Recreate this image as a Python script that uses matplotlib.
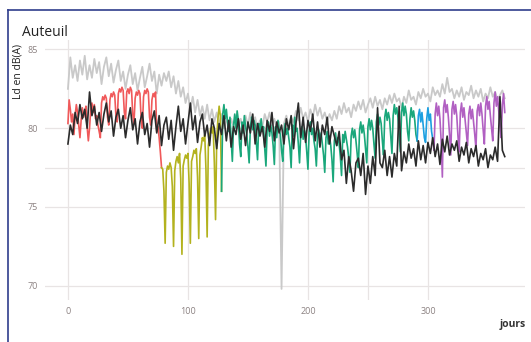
import numpy as np
import matplotlib
matplotlib.use("Agg")
import matplotlib.pyplot as plt
from matplotlib.lines import Line2D

plt.rcParams['font.family'] = ['Open Sans', 'DejaVu Sans']

# ---- data ----
# light grey series, one value every 2 days from day 0
gray_step = 2
gray = [82.5, 84.5, 83.2, 84.0, 83.0, 84.3, 83.4, 84.6, 83.1, 84.0, 83.2,
        84.4, 83.5, 84.2, 82.8, 83.9, 84.5, 83.3, 84.1, 82.9, 83.7,
        84.3, 83.0, 83.6, 82.5, 83.4, 84.0, 82.8, 83.5, 82.4, 83.2,
        83.9, 82.6, 83.3, 84.1, 83.0, 83.6, 82.2, 83.4, 82.7, 83.5,
        83.0, 83.6, 82.6, 83.3, 82.2, 83.0, 82.0, 82.6, 81.6, 82.2,
        81.2, 82.0, 81.0, 81.8, 80.8, 81.4, 80.6, 81.5, 80.5, 81.2,
        80.4, 81.0, 80.2, 80.9, 80.0, 80.7, 79.8, 80.6, 80.1, 80.8,
        80.0, 80.6, 79.9, 80.8, 80.2, 81.0, 80.3, 80.7, 79.9, 80.5,
        80.1, 80.9, 80.4, 81.0, 80.2, 80.6, 80.0, 80.4,
        69.8,
        80.3, 80.8, 80.1, 80.7, 80.4, 81.1, 80.5, 81.3, 80.6, 81.0, 80.4,
        81.2, 80.7, 81.5, 80.8, 81.3, 80.6, 81.0, 80.4, 80.9, 80.5,
        81.1, 80.6, 81.4, 80.9, 81.6, 81.0, 81.3, 80.7, 81.5, 81.1,
        81.7, 81.2, 81.8, 81.0, 81.5, 81.9, 81.3, 82.0, 81.4, 81.8,
        81.2, 81.9, 81.5, 82.1, 81.6, 82.2, 81.7, 81.9, 81.3, 82.0,
        81.6, 82.4, 81.8, 82.0, 81.5, 82.3, 81.9, 82.5, 82.0, 82.2,
        81.7, 82.6, 82.1, 82.4, 82.0, 82.8, 82.2, 83.2, 82.3, 82.5,
        81.9, 82.4, 82.0, 82.6, 81.8, 82.3, 82.1, 82.7, 81.9, 82.4,
        82.0, 82.5, 81.7, 82.2, 81.9, 82.6, 82.0, 82.3, 81.8, 82.1, 82.4, 81.9]

# black series, one value every 2 days from day 0
black_step = 2
black = [79.0, 80.2, 79.6, 81.0, 80.3, 81.5, 80.6, 81.2, 80.0, 82.3, 80.8,
         81.4, 80.2, 81.0, 79.8, 80.9, 81.6, 80.4, 81.1, 79.5, 80.7,
         81.2, 80.0, 80.8, 79.4, 80.5, 81.3, 79.9, 80.6, 79.0, 80.4,
         81.0, 79.6, 80.3, 78.8, 80.5, 81.1, 79.7, 80.8, 78.9, 80.2,
         80.7, 79.3, 80.5, 78.6, 80.1, 81.4, 79.8, 80.6, 79.0, 80.3,
         81.6, 79.9, 80.8, 79.1, 80.4, 80.9, 79.5, 80.2, 78.9, 80.6,
         80.0, 78.7, 80.3, 79.6, 80.8, 79.2, 80.5, 78.8, 80.1, 79.6,
         80.6, 79.3, 80.2, 78.9, 80.4, 79.7, 80.9, 79.0, 80.3, 79.5,
         80.1, 78.8, 80.5, 79.8, 81.0, 79.2, 80.4, 79.7,
         80.2,
         79.0, 80.6, 79.9, 80.8, 78.7, 80.3, 81.6, 79.4, 80.7, 79.1, 80.5,
         79.8, 80.9, 79.2, 80.4, 78.8, 80.2, 79.6, 80.7, 79.0, 80.1,
         79.5, 78.9, 79.8, 78.0, 78.6, 76.5, 78.2, 77.3, 76.0, 77.8,
         78.1, 77.0, 78.4, 75.8, 77.6, 76.5, 78.2, 77.0, 81.3, 77.8,
         77.5, 78.6, 77.0, 78.2, 76.9, 78.4, 77.6, 81.4, 77.3, 78.5,
         77.8, 79.0, 78.1, 78.7, 77.6, 79.2, 78.0, 78.9, 77.8, 79.1,
         78.4, 79.4, 78.2, 79.0, 77.7, 79.3, 78.5, 79.5, 78.3, 79.0,
         78.6, 79.2, 77.9, 78.8, 78.3, 79.1, 77.8, 78.7, 78.2, 78.9,
         77.6, 78.4, 78.0, 78.7, 77.5, 78.3, 78.0, 78.8, 77.9, 82.0, 78.6, 78.2]

# daily coloured segments
red_start = 0
red = [80.3, 81.8, 81.2, 80.4, 80.9, 79.6, 80.8,
       81.5, 81.0, 80.2, 79.4, 80.5, 81.3, 80.7,
       81.0, 81.4, 80.1, 79.2, 80.0, 81.2, 81.6,
       81.0, 81.5, 80.6, 80.8, 80.2, 79.8, 79.4,
       81.6, 82.0, 81.8, 82.1, 81.9, 80.7, 80.2,
       81.8, 82.2, 82.0, 82.3, 82.1, 80.8, 80.4,
       82.2, 82.5, 82.3, 82.6, 82.4, 81.0, 80.6,
       82.3, 82.5, 82.2, 82.6, 82.4, 80.9, 80.3,
       81.9, 82.3, 82.1, 82.4, 82.2, 80.6, 80.0,
       82.0, 82.4, 82.2, 82.5, 82.3, 80.7, 80.2,
       81.8, 82.2, 82.0, 82.3, 79.8, 80.1, 79.4,
       78.5, 77.5]

olive_start = 78
olive = [77.5, 77.4, 76.0, 72.7, 77.2, 77.6, 77.4,
         77.8, 77.5, 76.3, 72.5, 77.3, 77.9, 78.2,
         77.8, 78.4, 76.8, 72.0, 77.6, 78.0, 78.3,
         78.1, 78.4, 76.5, 72.7, 77.9, 78.2, 78.6,
         78.4, 78.7, 76.9, 73.0, 78.3, 78.8, 79.4,
         79.2, 79.6, 77.4, 73.1, 78.9, 79.5, 80.0,
         79.7, 80.1, 77.8, 74.2, 79.4, 80.6, 81.4,
         80.8, 76.0]

green_start = 128
green = [76.0, 80.9, 81.5,
         80.6, 81.2, 80.4, 79.8, 80.7, 79.3, 77.9,
         80.2, 80.9, 80.0, 81.1, 80.5, 79.0, 78.2,
         80.4, 79.7, 80.8, 80.1, 79.6, 78.8, 77.8,
         80.0, 80.7, 79.9, 80.5, 80.2, 79.1, 78.0,
         80.3, 79.6, 80.6, 79.8, 80.1, 78.7, 77.6,
         79.9, 80.4, 79.5, 80.2, 79.7, 78.9, 77.7,
         80.1, 79.4, 80.5, 79.9, 79.6, 78.6, 77.9,
         79.8, 80.3, 79.6, 80.0, 79.4, 78.8, 77.5,
         80.2, 79.5, 80.7, 79.8, 80.0, 79.0, 77.8,
         79.7, 80.1, 79.3, 79.9, 79.5, 78.5, 77.4,
         79.8, 80.4, 79.6, 80.0, 79.2, 78.7, 77.6,
         79.5, 79.9, 79.2, 79.7, 79.0, 78.3, 77.2,
         79.4, 79.8, 79.0, 79.5, 78.9, 78.0, 76.6,
         79.2, 79.7, 78.9, 79.4, 79.0, 78.2, 77.0,
         79.6, 79.1, 79.8, 79.3, 78.8, 78.1, 77.2,
         79.5, 80.0, 79.4, 79.9, 79.2, 78.4, 77.5,
         79.9, 80.4, 79.7, 80.2, 79.6, 78.7, 77.8,
         80.1, 80.6, 79.9, 80.5, 80.0, 79.0, 78.1,
         80.4, 80.9, 80.2, 80.7, 80.3, 79.2, 78.3,
         80.7, 81.2, 80.5, 81.0, 80.6, 79.5, 78.4,
         80.8, 81.5, 80.9, 81.3, 80.7, 79.6, 78.5,
         81.0, 81.6, 80.8, 81.4, 80.9, 79.8, 79.2,
         80.6, 81.3, 80.7, 81.1, 80.5, 79.6, 79.2]

blue_start = 291
blue = [79.2, 80.8, 81.2, 80.4, 81.0, 80.2, 79.4,
        79.1, 80.6, 81.3, 80.5, 80.9, 79.8, 79.3]

purple_start = 304
purple = [79.3, 78.6,
          80.9, 81.6, 80.8, 81.4, 80.6, 79.2, 76.9,
          81.3, 81.8, 81.0, 81.5, 80.7, 79.6, 78.3,
          81.2, 81.7, 80.9, 81.5, 80.8, 79.5, 78.5,
          81.0, 81.6, 80.7, 81.3, 80.5, 79.7, 78.9,
          80.9, 81.4, 80.6, 81.2, 80.4, 79.6, 78.7,
          81.1, 81.5, 80.8, 81.6, 80.9, 79.9, 79.0,
          81.4, 82.0, 81.2, 81.7, 80.8, 80.0, 79.2,
          81.6, 82.3, 81.4, 82.0, 81.1, 80.2, 79.4,
          81.5, 82.2, 81.0]

x_ticks = [0, 100, 200, 300]
x_grid = [0, 100, 200, 250, 300]
y_ticks = [70, 75, 80, 85]
y_grid = [70, 75, 77.5, 80, 85]

# ---- figure ----
fig = plt.figure(figsize=(5.31, 3.42), dpi=100)
ax = fig.add_axes([0.085, 0.123, 0.904, 0.76])

grid_col = '#e8e4e4'
for v in x_grid:
    ax.axvline(v, color=grid_col, lw=0.9, zorder=0)
for v in y_grid:
    ax.axhline(v, color=grid_col, lw=0.9, zorder=0)

def days(start, values, step=1):
    return start + step * np.arange(len(values))

ax.plot(days(0, gray, gray_step), gray, color='#c9c9c9', lw=1.3, zorder=1)
ax.plot(days(red_start, red), red, color='#f0595a', lw=1.2, zorder=2)
ax.plot(days(olive_start, olive), olive, color='#b3b21e', lw=1.2, zorder=2)
ax.plot(days(green_start, green), green, color='#1aa77b', lw=1.2, zorder=2)
ax.plot(days(blue_start, blue), blue, color='#1c9fe0', lw=1.2, zorder=2)
ax.plot(days(purple_start, purple), purple, color='#b160c2', lw=1.2, zorder=2)
ax.plot(days(0, black, black_step), black, color='#2b2b2b', lw=1.2, zorder=3)

ax.set_xlim(-19, 381)
ax.set_ylim(69.1, 85.6)
ax.set_xticks(x_ticks)
ax.set_yticks(y_ticks)
ax.tick_params(length=0, labelsize=6.5, labelcolor='#8c8282', pad=5)
for s in ax.spines.values():
    s.set_visible(False)

fig.text(0.041, 0.905, 'Auteuil', fontsize=10, color='#222222', va='center')
fig.text(0.034, 0.79, 'Ld en dB(A)', fontsize=7.5, color='#222222',
         fontweight='medium', rotation=90, ha='center', va='center')
fig.text(0.965, 0.05, 'jours', fontsize=7.5, fontweight='bold',
         color='#333333', ha='center', va='center')

# blue frame (top and left edges)
frame_col = '#2f3d8c'
fig.add_artist(Line2D([0.015, 1.0], [0.971, 0.971], color=frame_col, lw=1.2,
                      transform=fig.transFigure))
fig.add_artist(Line2D([0.015, 0.015], [0.0, 0.971], color=frame_col, lw=1.2,
                      transform=fig.transFigure))

fig.savefig('out.png', dpi=100)
